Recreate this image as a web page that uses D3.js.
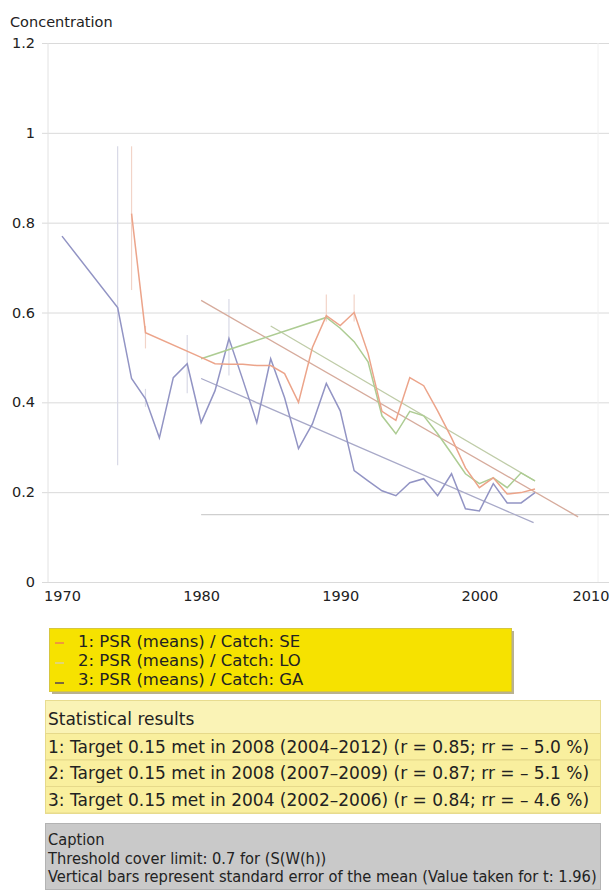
<!DOCTYPE html>
<html>
<head>
<meta charset="utf-8">
<script src="https://cdn.jsdelivr.net/npm/d3@7/dist/d3.min.js"></script>
<style>
  body { margin: 0; background: #fff; }
  svg text { font-family: "DejaVu Sans", Verdana, sans-serif; fill: #222; }
</style>
</head>
<body>
<div id="chart"></div>
<script>
// ---- data ----
var yTicks = [0, 0.2, 0.4, 0.6, 0.8, 1, 1.2];
var xTicks = [1970, 1980, 1990, 2000, 2010];

// 1: SE (orange/red)
var seYears = [1975, 1976, 1980, 1981, 1982, 1983, 1984, 1985, 1986, 1987, 1988, 1989, 1990, 1991, 1992,
               1993, 1994, 1995, 1996, 1997, 1998, 1999, 2000, 2001, 2002, 2003, 2004];
var seVals  = [0.82, 0.555, 0.50, 0.486, 0.485, 0.485, 0.482, 0.482, 0.464, 0.40, 0.522, 0.593, 0.571, 0.60, 0.509,
               0.38, 0.36, 0.455, 0.437, 0.381, 0.321, 0.254, 0.21, 0.232, 0.196, 0.199, 0.207];
// 2: LO (green)
var loYears = [1980, 1989, 1990, 1991, 1992, 1993, 1994, 1995, 1996, 1997, 1998, 1999, 2000, 2001, 2002, 2003, 2004];
var loVals  = [0.497, 0.589, 0.565, 0.535, 0.49, 0.37, 0.33, 0.38, 0.37, 0.33, 0.286, 0.241, 0.219, 0.232, 0.21, 0.243, 0.225];
// 3: GA (blue)
var gaYears = [1970, 1974, 1975, 1976, 1977, 1978, 1979, 1980, 1981, 1982, 1983, 1984, 1985, 1986, 1987, 1988,
               1989, 1990, 1991, 1992, 1993, 1994, 1995, 1996, 1997, 1998, 1999, 2000, 2001, 2002, 2003, 2004];
var gaVals  = [0.77, 0.611, 0.453, 0.408, 0.321, 0.455, 0.486, 0.355, 0.426, 0.542, 0.45, 0.355, 0.497, 0.41, 0.297, 0.352,
               0.442, 0.381, 0.248, 0.225, 0.203, 0.192, 0.221, 0.23, 0.192, 0.241, 0.163, 0.158, 0.219, 0.176, 0.176, 0.199];

// error bars: [year, low, high]
var seErr = [[1975, 0.65, 0.97], [1976, 0.52, 0.57], [1989, 0.58, 0.64], [1991, 0.58, 0.64]];
var gaErr = [[1974, 0.26, 0.97], [1976, 0.39, 0.43], [1979, 0.42, 0.55], [1982, 0.46, 0.63]];

// regression lines: [[year, value], [year, value]]
var seTrend = [[1980, 0.627], [2007.1, 0.145]];
var loTrend = [[1985, 0.57], [2004, 0.225]];
var gaTrend = [[1980, 0.453], [2003.9, 0.132]];
var target = 0.15;
var targetYears = [1980, 2011];

var legendLabels = ["1: PSR (means) / Catch: SE", "2: PSR (means) / Catch: LO", "3: PSR (means) / Catch: GA"];
var legendColors = ["#ee9a3c", "#e2d670", "#7d6a3c"];
var statTitle = "Statistical results";
var statLines = [
  "1: Target 0.15 met in 2008 (2004\u20132012) (r = 0.85; rr = \u2013 5.0 %)",
  "2: Target 0.15 met in 2008 (2007\u20132009) (r = 0.87; rr = \u2013 5.1 %)",
  "3: Target 0.15 met in 2004 (2002\u20132006) (r = 0.84; rr = \u2013 4.6 %)"
];
var captionLines = [
  "Caption",
  "Threshold cover limit: 0.7 for (S(W(h))",
  "Vertical bars represent standard error of the mean (Value taken for t: 1.96)"
];

var W = 609, H = 891;

var svg = d3.select("#chart").append("svg")
    .attr("width", W)
    .attr("height", H);

// scales
var x = d3.scaleLinear().domain([1970, 2004]).range([62, 535]);
var y = d3.scaleLinear().domain([0, 1.2]).range([582, 43]);

svg.append("text")
    .attr("x", 10).attr("y", 27)
    .style("font-size", "14.5px")
    .text("Concentration");

// gridlines + y labels
var yAxis = d3.axisLeft(y)
    .tickValues(yTicks)
    .tickSize(-(W - 42))
    .tickPadding(10)
    .tickFormat(d3.format("~g"));

var gy = svg.append("g")
    .attr("transform", "translate(" + 42 + ",0)")
    .call(yAxis);
gy.select(".domain").remove();
gy.selectAll(".tick line").attr("stroke", "#dadada");
gy.selectAll(".tick text").style("font-size", "14.5px").attr("fill", "#222").attr("x", -7);

// axis lines
svg.append("line")
    .attr("x1", 48).attr("x2", 48).attr("y1", y(1.2)).attr("y2", y(0))
    .attr("stroke", "#e2e2e2");
svg.append("line")
    .attr("x1", 598).attr("x2", 598).attr("y1", y(1.2)).attr("y2", y(0))
    .attr("stroke", "#f0f0f0");

// x axis
var xAxis = d3.axisBottom(x)
    .tickValues(xTicks)
    .tickSize(0)
    .tickPadding(9)
    .tickFormat(d3.format("d"));
var gx = svg.append("g")
    .attr("transform", "translate(0," + y(0) + ")")
    .call(xAxis);
gx.select(".domain").remove();
gx.selectAll(".tick text")
    .style("font-size", "14.5px")
    .attr("fill", "#222")
    .attr("text-anchor", function(d) { return x(d) > W - 20 ? "end" : "middle"; })
    .attr("dx", function(d) { return x(d) > W - 20 ? (W - x(d)) + "px" : 0; });

// target threshold
svg.append("line")
    .attr("x1", x(targetYears[0])).attr("x2", x(targetYears[1]))
    .attr("y1", y(target)).attr("y2", y(target))
    .attr("stroke", "#cfcfcf").attr("stroke-width", 1.2);

var line = d3.line()
    .x(function(d) { return x(d[0]); })
    .y(function(d) { return y(d[1]); });

function zip(a, b) { return a.map(function(v, i) { return [v, b[i]]; }); }

// error bars
function errBars(data, color) {
  svg.append("g").selectAll("line")
    .data(data)
    .enter().append("line")
    .attr("x1", function(d) { return x(d[0]); })
    .attr("x2", function(d) { return x(d[0]); })
    .attr("y1", function(d) { return y(d[1]); })
    .attr("y2", function(d) { return y(d[2]); })
    .attr("stroke", color)
    .attr("stroke-width", 1.2);
}
errBars(gaErr, "#d8d9e6");
errBars(seErr, "#f2d4c8");

// trend lines
svg.append("path").datum(seTrend).attr("d", line)
    .attr("fill", "none").attr("stroke", "#d6ab9c").attr("stroke-width", 1.3);
svg.append("path").datum(loTrend).attr("d", line)
    .attr("fill", "none").attr("stroke", "#bfcca8").attr("stroke-width", 1.3);
svg.append("path").datum(gaTrend).attr("d", line)
    .attr("fill", "none").attr("stroke", "#a8a9c8").attr("stroke-width", 1.3);

// series
svg.append("path").datum(zip(gaYears, gaVals)).attr("d", line)
    .attr("fill", "none").attr("stroke", "#9294c4").attr("stroke-width", 1.5);
svg.append("path").datum(zip(loYears, loVals)).attr("d", line)
    .attr("fill", "none").attr("stroke", "#adcc93").attr("stroke-width", 1.5);
svg.append("path").datum(zip(seYears, seVals)).attr("d", line)
    .attr("fill", "none").attr("stroke", "#eca48a").attr("stroke-width", 1.5);

// ---- legend box ----
var lg = svg.append("g");
lg.append("rect")
    .attr("x", 52).attr("y", 631).attr("width", 462).attr("height", 63)
    .attr("fill", "#b9b290");
lg.append("rect")
    .attr("x", 49.5).attr("y", 628.5).attr("width", 462).attr("height", 63)
    .attr("fill", "#f6e200").attr("stroke", "#d6c640");
lg.selectAll("line.key")
    .data(legendLabels)
    .enter().append("line")
    .attr("class", "key")
    .attr("x1", 55).attr("x2", 64)
    .attr("y1", function(d, i) { return 643 + i * 20; })
    .attr("y2", function(d, i) { return 643 + i * 20; })
    .attr("stroke", function(d, i) { return legendColors[i]; })
    .attr("stroke-width", 2);
lg.selectAll("text")
    .data(legendLabels)
    .enter().append("text")
    .attr("x", 78)
    .attr("y", function(d, i) { return 647 + i * 19; })
    .style("font-size", "16.5px")
    .text(function(d) { return d; });

// ---- statistical results ----
var sg = svg.append("g");
sg.append("rect")
    .attr("x", 45.5).attr("y", 700.5).attr("width", 555).attr("height", 113)
    .attr("fill", "#faf3b6").attr("stroke", "#e8dc90");
sg.selectAll("rect.row")
    .data(statLines)
    .enter().append("rect")
    .attr("class", "row")
    .attr("x", 45.5).attr("width", 555)
    .attr("y", function(d, i) { return 733.5 + i * 26.5; })
    .attr("height", 26.5)
    .attr("fill", "#f9ef9e").attr("stroke", "#e6d98a");
sg.append("text")
    .attr("x", 48).attr("y", 725)
    .style("font-size", "17px")
    .text(statTitle);
sg.selectAll("text.row")
    .data(statLines)
    .enter().append("text")
    .attr("class", "row")
    .attr("x", 48)
    .attr("y", function(d, i) { return 752.5 + i * 26.5; })
    .style("font-size", "17px")
    .text(function(d) { return d; });

// ---- caption ----
var cg = svg.append("g");
cg.append("rect")
    .attr("x", 45.5).attr("y", 823.5).attr("width", 555).attr("height", 66)
    .attr("fill", "#c9c9c9").attr("stroke", "#b3b3b3");
cg.selectAll("text")
    .data(captionLines)
    .enter().append("text")
    .attr("x", 48)
    .attr("y", function(d, i) { return 845 + i * 18.5; })
    .style("font-size", "16.3px")
    .style("font-family", "'DejaVu Sans Condensed', 'DejaVu Sans', sans-serif")
    .text(function(d) { return d; });
</script>
</body>
</html>
